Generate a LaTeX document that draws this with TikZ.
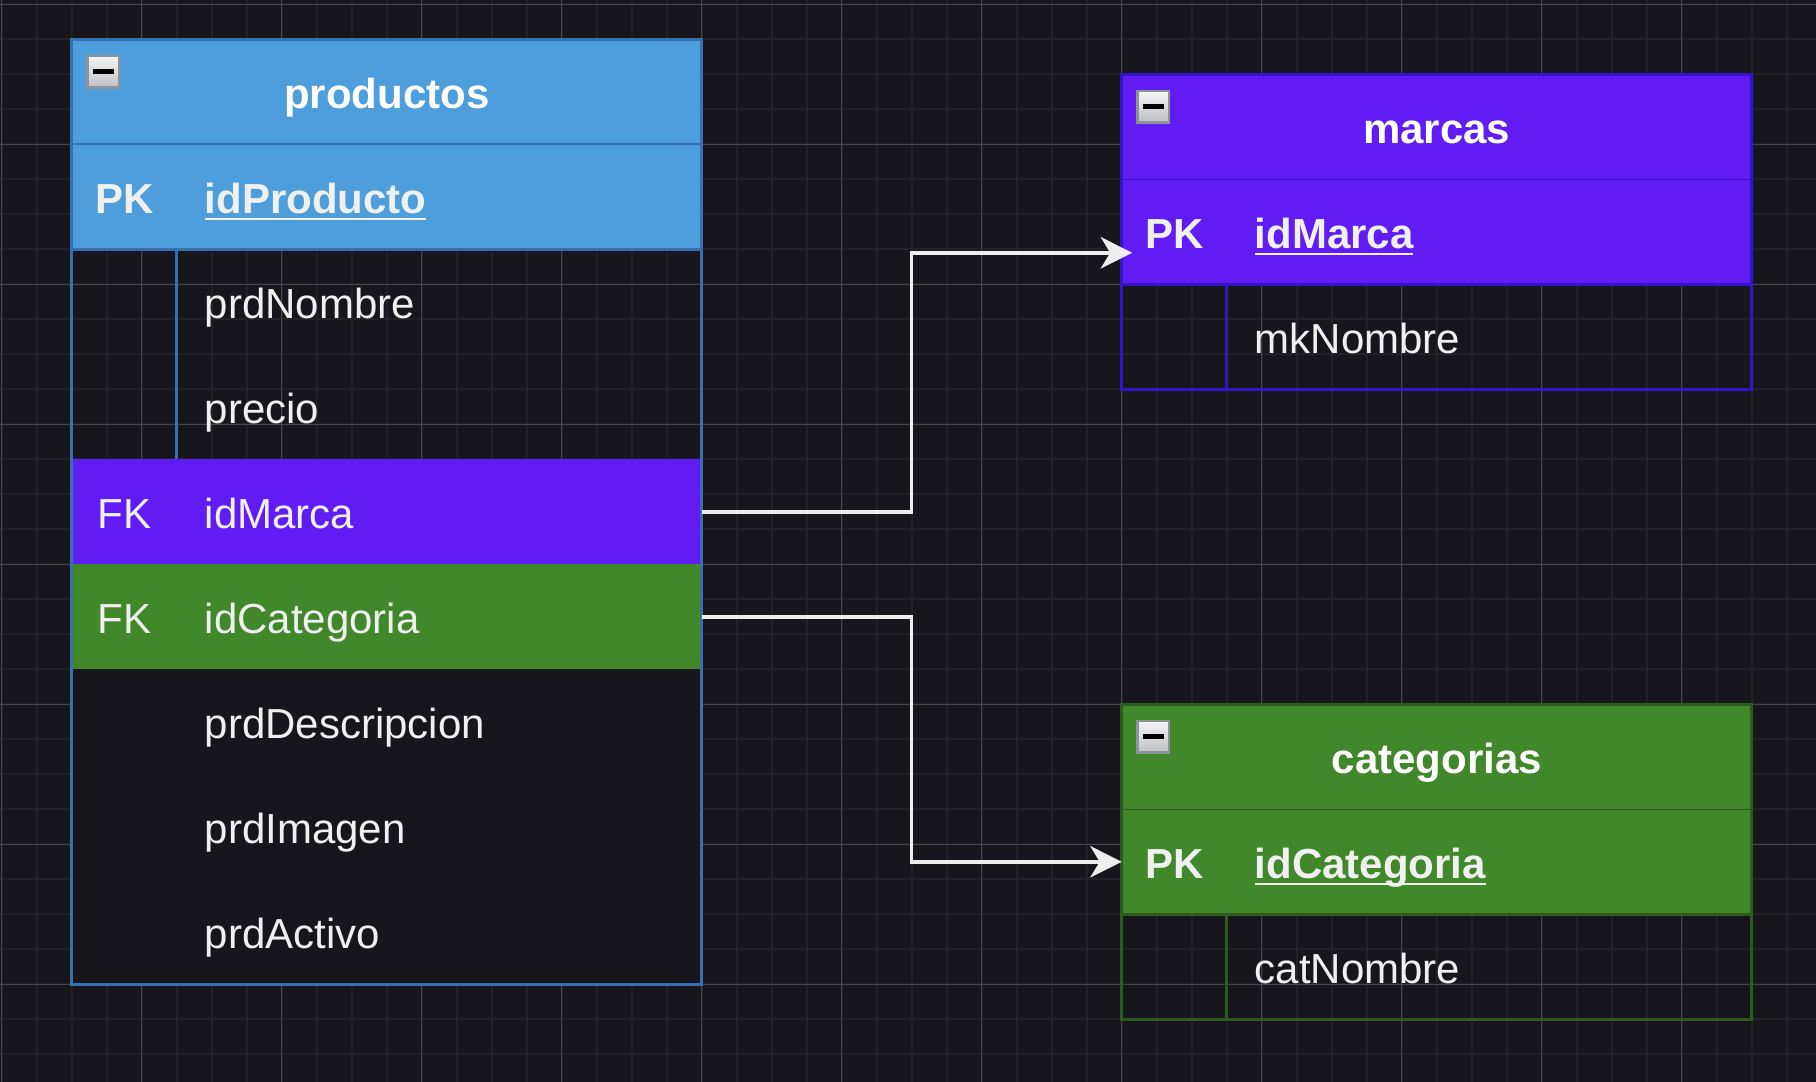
\documentclass[tikz,border=0pt]{standalone}
\usepackage{fontspec}
\setmainfont{Liberation Sans}
\usetikzlibrary{arrows.meta}
\definecolor{bgc}{HTML}{18161D}
\definecolor{minorc}{HTML}{232128}
\definecolor{majorc}{HTML}{47454C}
\definecolor{prodc}{HTML}{4D9EDB}
\definecolor{prodln}{HTML}{3670B0}
\definecolor{marcc}{HTML}{611BF3}
\definecolor{marcln}{HTML}{3414C8}
\definecolor{catc}{HTML}{41882A}
\definecolor{catln}{HTML}{2C5C1B}
\definecolor{arrc}{HTML}{EEEEEE}
\definecolor{txtc}{HTML}{F0F0F0}
\definecolor{btnln}{HTML}{8E9299}
\definecolor{btnlo}{HTML}{BEBFC4}
\newcommand{\erfont}{\fontsize{12pt}{14pt}\selectfont}
\tikzset{
  tbl/.style={rectangle, minimum width=180pt, minimum height=30pt, inner sep=0pt, outer sep=0pt},
  hdr/.style={tbl, font=\erfont\bfseries, text=white, text height=11.6pt, text depth=2pt},
  keyt/.style={inner sep=0pt, outer sep=0pt, text=txtc, text height=11.6pt, text depth=2pt},
  fld/.style={keyt, anchor=west},
  pkey/.style={font=\erfont\bfseries},
  btn/.style={rectangle, draw=btnln, line width=0.75pt, top color=white!96!black, bottom color=btnlo, minimum size=9pt, inner sep=0pt},
  arr/.style={-{Stealth[length=9pt, width=9pt, inset=2.7pt]}, line width=1pt, draw=arrc},
  minorg/.style={draw=minorc, line width=0.55pt},
  majorg/.style={draw=majorc, line width=0.35pt},
  uln/.style={draw=txtc, line width=0.75pt},
  brd/.style={line width=0.75pt},
}

\begin{document}
\begin{tikzpicture}[x=1pt,y=-1pt,font=\erfont]
\useasboundingbox (-0.486,-1.229) rectangle (518.37,307.91);
\fill[bgc] (-0.486,-1.229) rectangle (518.37,307.91);
% grid
\foreach \gx in {0,10,...,510} \draw[minorg] (\gx,-1.229) -- (\gx,307.91);
\foreach \gy in {0,10,...,300} \draw[minorg] (-0.486,\gy) -- (518.37,\gy);
\foreach \gx in {0,40,...,480} \draw[majorg] (\gx,-1.229) -- (\gx,307.91);
\foreach \gy in {0,40,...,280} \draw[majorg] (-0.486,\gy) -- (518.37,\gy);

% productos
\node[hdr, fill=prodc] (prodHead) at (110,25) {productos};
\node[tbl, fill=prodc] (prodPK) at (110,55) {};
\node[tbl] (prodNom) at (110,85) {};
\node[tbl] (prodPre) at (110,115) {};
\node[tbl, fill=marcc] (prodMarca) at (110,145) {};
\node[tbl, fill=catc] (prodCat) at (110,175) {};
\node[tbl, fill=bgc] (prodDesc) at (110,205) {};
\node[tbl, fill=bgc] (prodImg) at (110,235) {};
\node[tbl, fill=bgc] (prodAct) at (110,265) {};
\draw[prodln, line width=0.45pt] (prodHead.south west) -- (prodHead.south east);
\draw[prodln, line width=0.8pt] (prodPK.south west) -- (prodPK.south east);
\draw[prodln, brd] ([xshift=30pt]prodNom.north west) -- ([xshift=30pt]prodPre.south west);
\draw[prodln, brd] (prodHead.north west) rectangle (prodAct.south east);
\node[btn] (prodBtn) at ([xshift=9pt,yshift=-9.25pt]prodHead.north west) {\color{black}\rule{6pt}{1.3pt}};
\node[keyt, pkey] (prodPKk) at ([xshift=15pt]prodPK.west) {PK};
\node[fld, pkey] (prodPKt) at ([xshift=38pt]prodPK.west) {idProducto};
\draw[uln] ([yshift=-1.5pt]prodPKt.base west) -- ([yshift=-1.5pt]prodPKt.base east);
\node[fld] (prodNomt) at ([xshift=38pt]prodNom.west) {prdNombre};
\node[fld] (prodPret) at ([xshift=38pt]prodPre.west) {precio};
\node[keyt] (prodMarcak) at ([xshift=15pt]prodMarca.west) {FK};
\node[fld] (prodMarcat) at ([xshift=38pt]prodMarca.west) {idMarca};
\node[keyt] (prodCatk) at ([xshift=15pt]prodCat.west) {FK};
\node[fld] (prodCatt) at ([xshift=38pt]prodCat.west) {idCategoria};
\node[fld] (prodDesct) at ([xshift=38pt]prodDesc.west) {prdDescripcion};
\node[fld] (prodImgt) at ([xshift=38pt]prodImg.west) {prdImagen};
\node[fld] (prodActt) at ([xshift=38pt]prodAct.west) {prdActivo};

% marcas
\node[hdr, fill=marcc] (marcHead) at (410,35) {marcas};
\node[tbl, fill=marcc] (marcPK) at (410,65) {};
\node[tbl] (marcNom) at (410,95) {};
\draw[marcln, line width=0.45pt] (marcHead.south west) -- (marcHead.south east);
\draw[marcln, line width=0.8pt] (marcPK.south west) -- (marcPK.south east);
\draw[marcln, brd] ([xshift=30pt]marcNom.north west) -- ([xshift=30pt]marcNom.south west);
\draw[marcln, brd] (marcHead.north west) rectangle (marcNom.south east);
\node[btn] (marcBtn) at ([xshift=9pt,yshift=-9.25pt]marcHead.north west) {\color{black}\rule{6pt}{1.3pt}};
\node[keyt, pkey] (marcPKk) at ([xshift=15pt]marcPK.west) {PK};
\node[fld, pkey] (marcPKt) at ([xshift=38pt]marcPK.west) {idMarca};
\draw[uln] ([yshift=-1.5pt]marcPKt.base west) -- ([yshift=-1.5pt]marcPKt.base east);
\node[fld] (marcNomt) at ([xshift=38pt]marcNom.west) {mkNombre};

% categorias
\node[hdr, fill=catc] (catHead) at (410,215) {categorias};
\node[tbl, fill=catc] (catPK) at (410,245) {};
\node[tbl] (catNom) at (410,275) {};
\draw[catln, line width=0.45pt] (catHead.south west) -- (catHead.south east);
\draw[catln, line width=0.8pt] (catPK.south west) -- (catPK.south east);
\draw[catln, brd] ([xshift=30pt]catNom.north west) -- ([xshift=30pt]catNom.south west);
\draw[catln, brd] (catHead.north west) rectangle (catNom.south east);
\node[btn] (catBtn) at ([xshift=9pt,yshift=-9.25pt]catHead.north west) {\color{black}\rule{6pt}{1.3pt}};
\node[keyt, pkey] (catPKk) at ([xshift=15pt]catPK.west) {PK};
\node[fld, pkey] (catPKt) at ([xshift=38pt]catPK.west) {idCategoria};
\draw[uln] ([yshift=-1.5pt]catPKt.base west) -- ([yshift=-1.5pt]catPKt.base east);
\node[fld] (catNomt) at ([xshift=38pt]catNom.west) {catNombre};

% relaciones
\draw[arr] (prodMarca.east) -- ++(60,0) |- ([xshift=3pt,yshift=-6pt]marcPK.west);
\draw[arr] (prodCat.east) -- ++(60,0) |- (catPK.west);
\end{tikzpicture}
\end{document}
